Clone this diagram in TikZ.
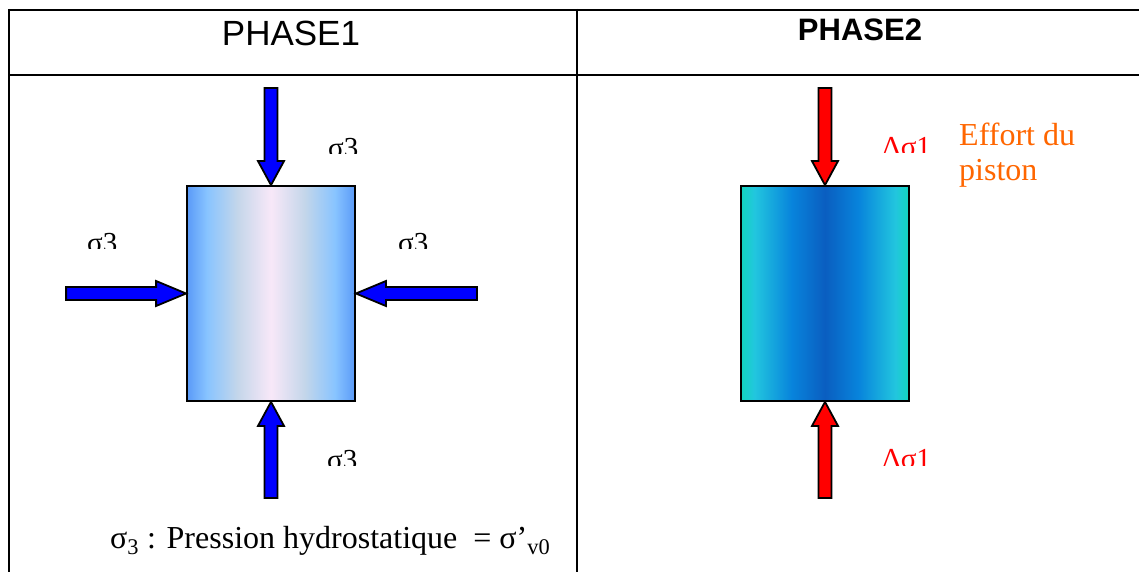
\documentclass[tikz,border=0pt]{standalone}
\usepackage{fontspec}
\setmainfont{Liberation Serif}
\setsansfont{Liberation Sans}
\usepackage{xcolor}
\usepackage{tikz}
\usetikzlibrary{positioning}
\definecolor{stressblue}{HTML}{0000FF}
\definecolor{stressred}{HTML}{FF0000}
\definecolor{pistonorange}{HTML}{FF6600}
\definecolor{oneedge}{HTML}{5A9AF8}
\definecolor{onelight}{HTML}{88C4FF}
\definecolor{onegrey}{HTML}{C4D6EA}
\definecolor{onecore}{HTML}{F8E8F8}
\definecolor{twoedge}{HTML}{12D4BE}
\definecolor{twolight}{HTML}{22C6DE}
\definecolor{twomid}{HTML}{0884DC}
\definecolor{twocore}{HTML}{0A5EC0}
% sample shadings (horizontal, path mapped on 25bp..75bp)
\pgfdeclarehorizontalshading{sampleone}{100bp}{color(0bp)=(oneedge);
  color(25bp)=(oneedge); color(31bp)=(onelight); color(40bp)=(onegrey);
  color(50bp)=(onecore); color(60bp)=(onegrey); color(69bp)=(onelight);
  color(75bp)=(oneedge); color(100bp)=(oneedge)}
\pgfdeclarehorizontalshading{sampletwo}{100bp}{color(0bp)=(twoedge);
  color(25bp)=(twoedge); color(29bp)=(twolight); color(40bp)=(twomid);
  color(50bp)=(twocore); color(60bp)=(twomid); color(71bp)=(twolight);
  color(75bp)=(twoedge); color(100bp)=(twoedge)}
% label cut at its lower edge
\newcommand{\cutlabel}[5]{%
  \begin{scope}
    \clip (#2-40,#3-40) rectangle (#2+80,#4);
    \node[anchor=base west, inner sep=0pt] (#1) at (#2,#3) {#5};
  \end{scope}}

\begin{document}
\begin{tikzpicture}[x=1pt, y=-1pt,
  frame/.style={line width=2pt},
  sample/.style={draw=black, line width=1.8pt, minimum width=168pt,
    minimum height=215pt, inner sep=0pt, shading=#1},
  pics/blockarrow/.style n args={4}{code={%
    \draw[fill=#1, line width=1.8pt, line join=miter]
      (0,0) -- (-#3,#4) -- (-#3,6.5) -- (-#2,6.5) -- (-#2,-6.5)
      -- (-#3,-6.5) -- (-#3,-#4) -- cycle;
  }},
]
  \useasboundingbox (0,0) rectangle (1139,572);

  % table frame
  \draw[frame] (8,10) -- (1139,10);
  \draw[frame] (8,75) -- (1139,75);
  \draw[frame] (9,9) -- (9,572);
  \draw[frame] (577,9) -- (577,572);

  % headers
  \node[anchor=base, font=\sffamily\fontsize{35}{40}\selectfont, inner sep=0pt]
    (head1) at (291,46) {PHASE1};
  \node[anchor=base, font=\sffamily\bfseries\fontsize{31}{36}\selectfont, inner sep=0pt]
    (head2) at (860,41) {PHASE2};

  % samples
  \node[sample=sampleone] (box1) at (271,293.5) {};
  \node[sample=sampletwo] (box2) at (825,293.5) {};

  % phase 1 : hydrostatic pressure
  \pic[rotate=-90] at (box1.north) {blockarrow={stressblue}{97}{24}{13}};
  \pic[rotate=90] at (box1.south) {blockarrow={stressblue}{96}{24}{13}};
  \pic at (box1.west) {blockarrow={stressblue}{120}{30}{12.5}};
  \pic[rotate=180] at (box1.east) {blockarrow={stressblue}{121}{30}{12.5}};

  \cutlabel{s3top}{328}{158}{154}{\fontsize{29}{32}\selectfont σ3}
  \cutlabel{s3left}{87}{252}{248}{\fontsize{29}{32}\selectfont σ3}
  \cutlabel{s3right}{398}{252}{248}{\fontsize{29}{32}\selectfont σ3}
  \cutlabel{s3bottom}{327}{469}{465}{\fontsize{29}{32}\selectfont σ3}

  \node[anchor=base west, inner sep=0pt, font=\fontsize{32}{38}\selectfont]
    (legend) at (110,548) {σ\textsubscript{3} : Pression hydrostatique \ = σ’\textsubscript{v0}};

  % phase 2 : piston
  \pic[rotate=-90] at (box2.north) {blockarrow={stressred}{97}{24}{13}};
  \pic[rotate=90] at (box2.south) {blockarrow={stressred}{96}{24}{13}};

  \cutlabel{ds1top}{882}{156.5}{153}{\color{stressred}\fontsize{29}{32}\selectfont Δσ1}
  \cutlabel{ds1bottom}{882}{468}{465}{\color{stressred}\fontsize{29}{32}\selectfont Δσ1}

  \node[anchor=base west, inner sep=0pt, align=left, text=pistonorange,
    font=\fontsize{32}{35}\selectfont] (piston) at (959,180) {Effort du\\piston};
\end{tikzpicture}
\end{document}
